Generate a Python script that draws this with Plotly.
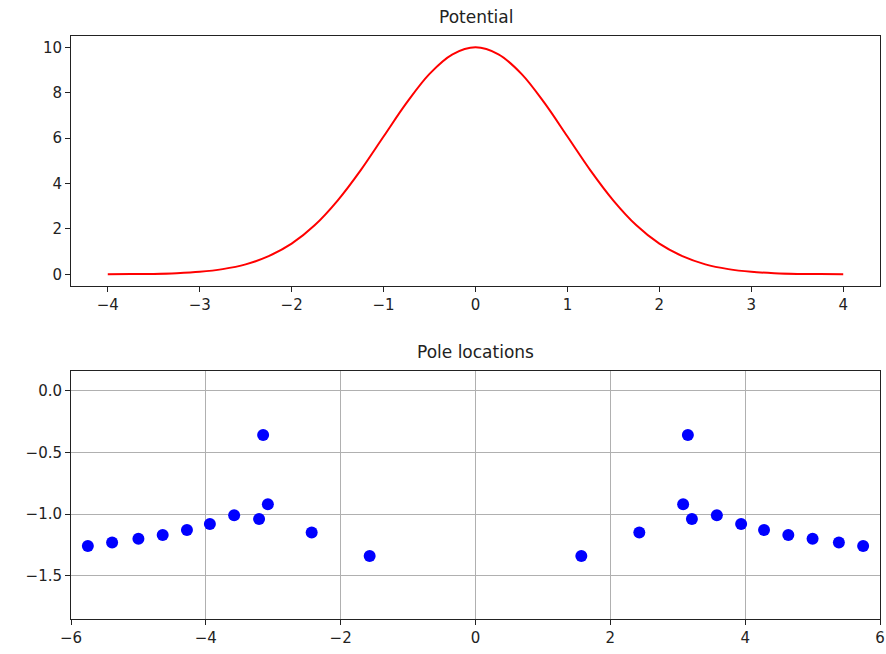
import plotly.graph_objects as go
from plotly.subplots import make_subplots

# Potential curve, values
pot_x = [-4.0, -3.75, -3.5, -3.25, -3.0, -2.75, -2.5, -2.25, -2.0, -1.75, -1.5,
         -1.25, -1.0, -0.75, -0.5, -0.25, 0.0, 0.25, 0.5, 0.75, 1.0, 1.25, 1.5,
         1.75, 2.0, 2.25, 2.5, 2.75, 3.0, 3.25, 3.5, 3.75, 4.0]
pot_y = [0.00, 0.01, 0.02, 0.05, 0.11, 0.23, 0.44, 0.80, 1.35, 2.16, 3.25,
         4.58, 6.07, 7.55, 8.83, 9.69, 10.0, 9.69, 8.83, 7.55, 6.07, 4.58, 3.25,
         2.16, 1.35, 0.80, 0.44, 0.23, 0.11, 0.05, 0.02, 0.01, 0.00]

# Pole locations (real part, imaginary part)
pole_re = [-5.75, -5.39, -5.00, -4.64, -4.28, -3.94, -3.58, -3.21, -3.15, -3.08,
           -2.43, -1.57,
           1.57, 2.43, 3.08, 3.15, 3.21, 3.58, 3.94, 4.28, 4.64, 5.00, 5.39, 5.75]
pole_im = [-1.26, -1.23, -1.20, -1.17, -1.13, -1.08, -1.01, -1.04, -0.36, -0.92,
           -1.15, -1.34,
           -1.34, -1.15, -0.92, -0.36, -1.04, -1.01, -1.08, -1.13, -1.17, -1.20, -1.23, -1.26]

FONT = "DejaVu Sans"
AX = dict(
    showline=True, linecolor="#222", linewidth=1, mirror=True,
    ticks="outside", ticklen=5, tickcolor="#222", tickwidth=1,
    tickfont=dict(family=FONT, size=15, color="#222"),
    zeroline=False, automargin=False, ticklabeloverflow="allow",
)

fig = make_subplots(rows=2, cols=1)

fig.add_trace(
    go.Scatter(x=pot_x, y=pot_y, mode="lines", line=dict(color="#ff0000", width=2, shape="spline"),
               showlegend=False),
    row=1, col=1,
)
fig.add_trace(
    go.Scatter(x=pole_re, y=pole_im, mode="markers",
               marker=dict(color="#0000ff", size=12), showlegend=False),
    row=2, col=1,
)

fig.update_xaxes(**AX, range=[-4.4, 4.4], tickvals=[-4, -3, -2, -1, 0, 1, 2, 3, 4],
                 showgrid=False, domain=[0, 1], row=1, col=1)
fig.update_yaxes(**AX, range=[-0.5, 10.5], tickvals=[0, 2, 4, 6, 8, 10],
                 showgrid=False, domain=[0.5717, 1.0], row=1, col=1)
fig.update_xaxes(**AX, range=[-6, 6], tickvals=[-6, -4, -2, 0, 2, 4, 6],
                 showgrid=True, gridcolor="#b0b0b0", gridwidth=1, domain=[0, 1], row=2, col=1)
fig.update_yaxes(**AX, range=[-1.851, 0.162], tickvals=[0.0, -0.5, -1.0, -1.5], tickformat=".1f",
                 showgrid=True, gridcolor="#b0b0b0", gridwidth=1, domain=[0, 0.4259], row=2, col=1)

fig.update_layout(
    width=886, height=654,
    margin=dict(l=71, r=6, t=36, b=35, autoexpand=False),
    paper_bgcolor="white", plot_bgcolor="white",
    font=dict(family=FONT, color="#222"),
    annotations=[
        dict(text="Potential", x=0.5, y=1.0, xref="paper", yref="paper", yshift=7,
             xanchor="center", yanchor="bottom", showarrow=False, font=dict(family=FONT, size=17, color="#222")),
        dict(text="Pole locations", x=0.5, y=0.4259, xref="paper", yref="paper", yshift=7,
             xanchor="center", yanchor="bottom", showarrow=False, font=dict(family=FONT, size=17, color="#222")),
    ],
)

# drop the page's default body margin so the figure fills the window
fig.write_html(
    "out.html",
    config={"displayModeBar": False},
    post_script="document.body.style.margin='0';document.body.style.overflow='hidden';",
)
